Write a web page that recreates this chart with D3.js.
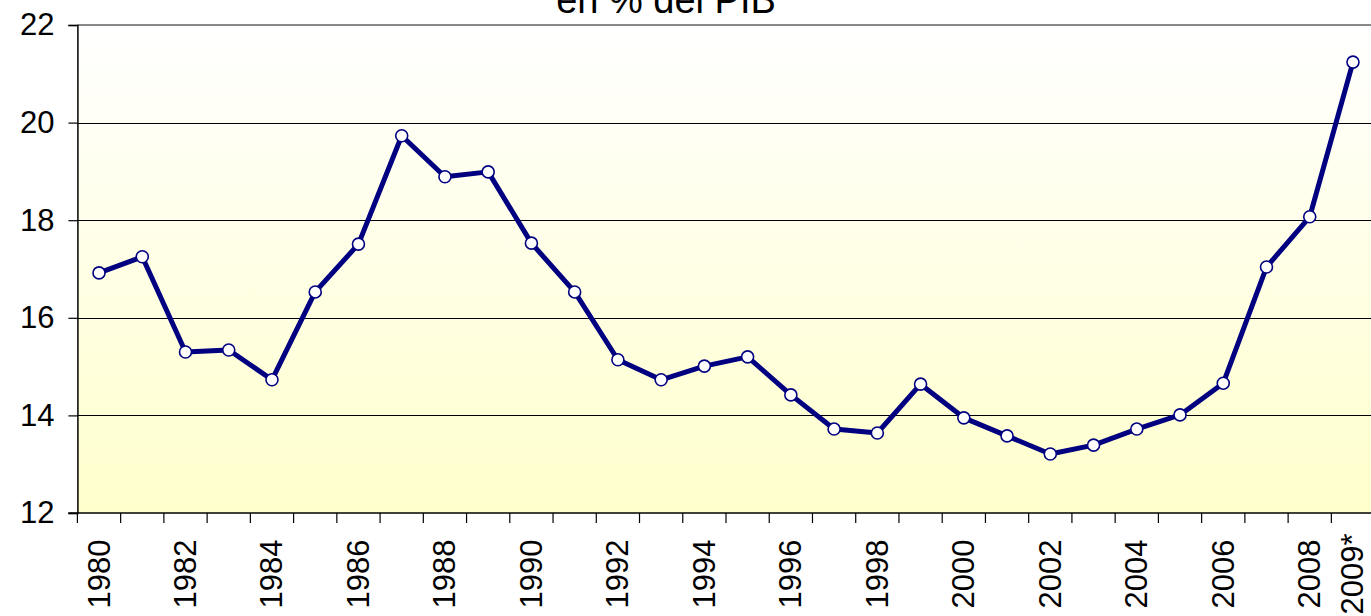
<!DOCTYPE html>
<html>
<head>
<meta charset="utf-8">
<script src="https://cdn.jsdelivr.net/npm/d3@7/dist/d3.min.js"></script>
<style>
  html, body { margin: 0; padding: 0; background: #ffffff; overflow: hidden; }
  svg { display: block; font-family: "Liberation Sans", Arial, sans-serif; }
</style>
</head>
<body>
<svg id="chart" width="1371" height="616"></svg>
<script>
const years = ["1980","1981","1982","1983","1984","1985","1986","1987","1988","1989",
               "1990","1991","1992","1993","1994","1995","1996","1997","1998","1999",
               "2000","2001","2002","2003","2004","2005","2006","2007","2008","2009*"];
const values = [16.92, 17.25, 15.30, 15.34, 14.73, 16.53, 17.51, 19.73, 18.89, 18.99,
                17.53, 16.53, 15.14, 14.73, 15.01, 15.20, 14.42, 13.72, 13.64, 14.64,
                13.95, 13.58, 13.21, 13.39, 13.72, 14.01, 14.66, 17.04, 18.07, 21.24];
const xTickLabels = ["1980","1982","1984","1986","1988","1990","1992","1994","1996","1998",
                     "2000","2002","2004","2006","2008","2009*"];
const yTicks = [12, 14, 16, 18, 20, 22];
const title = "en % del PIB";

(function () {
const svg = d3.select("#chart");
const pLeft = 77.4, pRight = 1374.6, pTop = 25, pBottom = 513;

const x = d3.scaleBand().domain(years).range([pLeft, pRight]).padding(0);
const y = d3.scaleLinear().domain([12, 22]).range([pBottom, pTop]);

const defs = svg.append("defs");
const grad = defs.append("linearGradient").attr("id", "bg")
  .attr("x1", 0).attr("y1", 0).attr("x2", 0).attr("y2", 1);
grad.append("stop").attr("offset", "0%").attr("stop-color", "#ffffff");
grad.append("stop").attr("offset", "100%").attr("stop-color", "#ffffcc");

svg.append("rect").attr("x", pLeft).attr("y", pTop)
  .attr("width", pRight - pLeft).attr("height", pBottom - pTop)
  .attr("fill", "url(#bg)");

// gridlines
svg.append("g").selectAll("line").data(yTicks.filter(d => d > 12 && d < 22)).join("line")
  .attr("x1", pLeft).attr("x2", pRight)
  .attr("y1", d => Math.round(y(d)) + 0.5).attr("y2", d => Math.round(y(d)) + 0.5)
  .attr("stroke", "#000").attr("stroke-width", 1);

// top border
svg.append("line").attr("x1", pLeft).attr("x2", pRight)
  .attr("y1", pTop).attr("y2", pTop)
  .attr("stroke", "#888").attr("stroke-width", 2);

// y axis
const yAxis = d3.axisLeft(y).tickValues(yTicks).tickSize(9).tickPadding(14)
  .tickFormat(d3.format("d"));
const gy = svg.append("g").attr("transform", `translate(${pLeft},0)`).call(yAxis);
gy.select(".domain").attr("stroke", "#000").attr("stroke-width", 1.5);
gy.selectAll(".tick line").attr("stroke", "#000").attr("stroke-width", 1.2);
gy.selectAll(".tick text").attr("font-size", 31).attr("fill", "#000")
  .attr("font-family", "'Liberation Sans', Arial, sans-serif");

// x axis baseline
svg.append("line").attr("x1", pLeft - 9).attr("x2", pRight)
  .attr("y1", pBottom).attr("y2", pBottom).attr("stroke", "#000").attr("stroke-width", 1.5);

// x ticks at band boundaries
const bounds = years.map(d => x(d)).concat([x(years[years.length - 1]) + x.bandwidth()]);
svg.append("g").selectAll("line").data(bounds).join("line")
  .attr("x1", d => d).attr("x2", d => d)
  .attr("y1", pBottom).attr("y2", pBottom + 10)
  .attr("stroke", "#000").attr("stroke-width", 1.2);

// x labels
svg.append("g").selectAll("text").data(xTickLabels).join("text")
  .attr("transform", d => `translate(${x(d) + x.bandwidth() / 2 + 10.5},574) rotate(-90)`)
  .attr("text-anchor", "middle")
  .attr("font-size", 31).attr("fill", "#000")
  .text(d => d);

// line
const line = d3.line().x((d, i) => x(years[i]) + x.bandwidth() / 2).y(d => y(d));
svg.append("path").datum(values).attr("d", line)
  .attr("fill", "none").attr("stroke", "#000080").attr("stroke-width", 5)
  .attr("stroke-linejoin", "round");

svg.append("g").selectAll("circle").data(values).join("circle")
  .attr("cx", (d, i) => x(years[i]) + x.bandwidth() / 2)
  .attr("cy", d => y(d))
  .attr("r", 6)
  .attr("fill", "#fff").attr("stroke", "#000080").attr("stroke-width", 1.6);

// title (partially cut at top, as in the reference)
svg.append("text").attr("x", 666).attr("y", 13)
  .attr("text-anchor", "middle").attr("font-size", 38).attr("fill", "#000")
  .text(title);
})();
</script>
</body>
</html>
